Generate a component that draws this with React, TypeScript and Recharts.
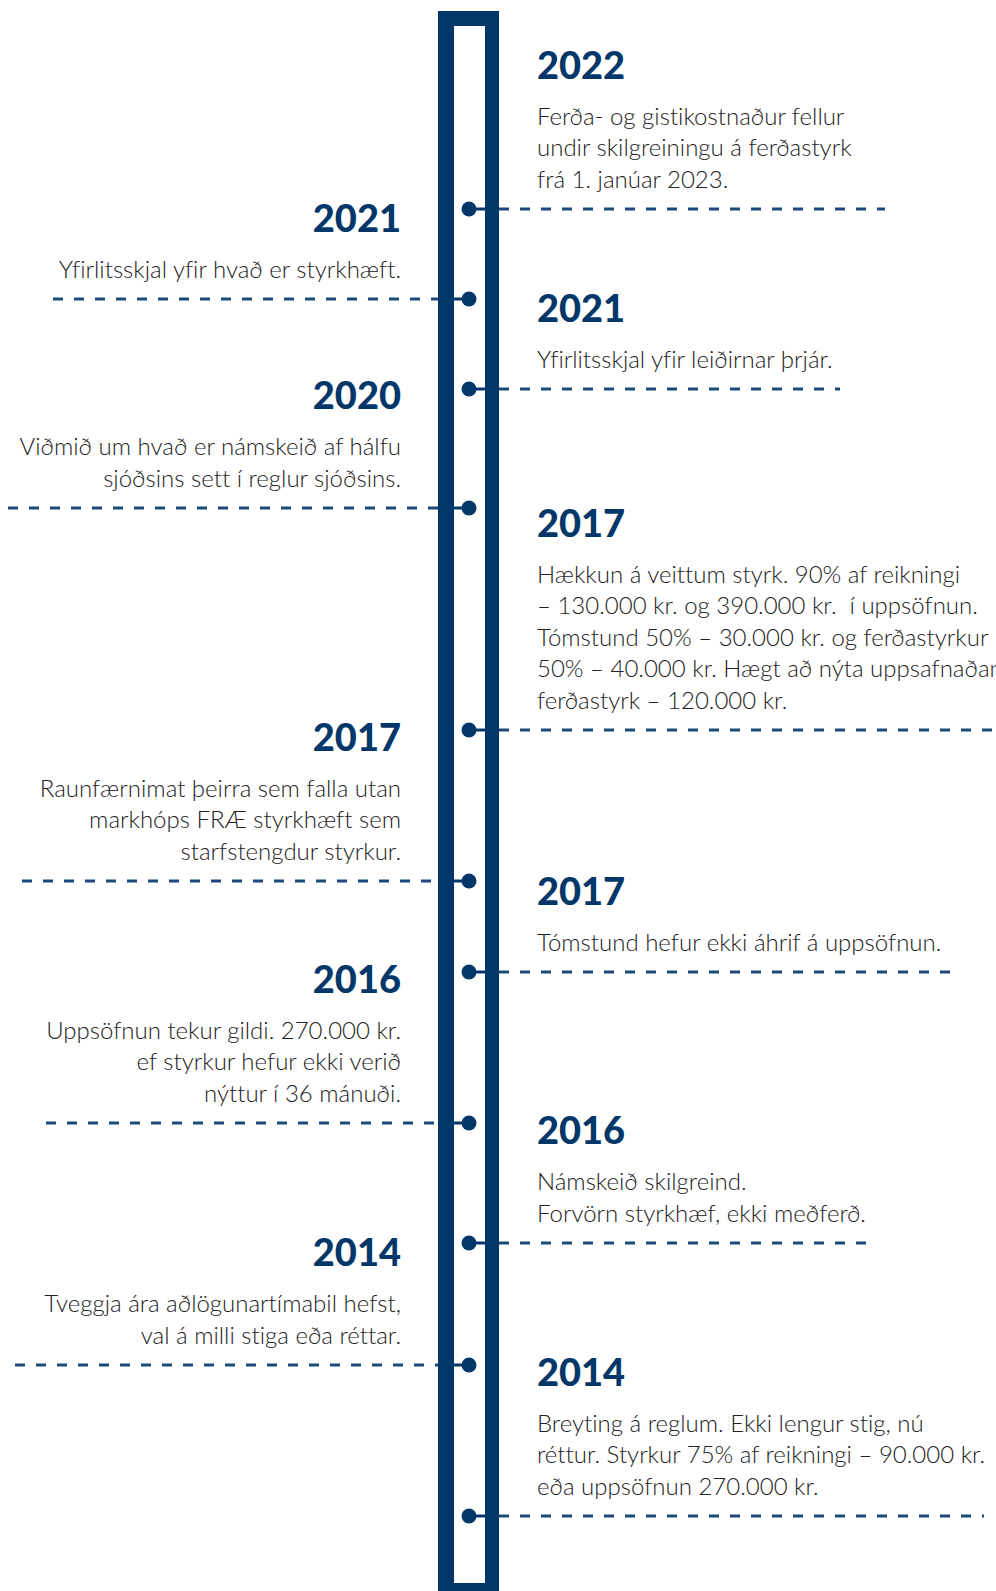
import React from 'react';
import {
  ScatterChart,
  Scatter,
  XAxis,
  YAxis,
  ReferenceArea,
  ReferenceLine
} from 'recharts';

// timeline events, top to bottom
const eventYears = ['2022', '2021', '2021', '2020', '2017', '2017', '2017', '2016', '2016', '2014', '2014'];
const eventSides = ['right', 'left', 'right', 'left', 'right', 'left', 'right', 'left', 'right', 'left', 'right'];
// position of each milestone along the timeline
const eventPositions = [209, 299, 389, 508, 730, 881, 972, 1123, 1243, 1365, 1516];
const eventTexts: string[][] = [
  ['Ferða- og gistikostnaður fellur', 'undir skilgreiningu á ferðastyrk', 'frá 1. janúar 2023.'],
  ['Yfirlitsskjal yfir hvað er styrkhæft.'],
  ['Yfirlitsskjal yfir leiðirnar þrjár.'],
  ['Viðmið um hvað er námskeið af hálfu', 'sjóðsins sett í reglur sjóðsins.'],
  [
    'Hækkun á veittum styrk. 90% af reikningi',
    '– 130.000 kr. og 390.000 kr.  í uppsöfnun.',
    'Tómstund 50% – 30.000 kr. og ferðastyrkur',
    '50% – 40.000 kr. Hægt að nýta uppsafnaðan',
    'ferðastyrk – 120.000 kr.'
  ],
  ['Raunfærnimat þeirra sem falla utan', 'markhóps FRÆ styrkhæft sem', 'starfstengdur styrkur.'],
  ['Tómstund hefur ekki áhrif á uppsöfnun.'],
  ['Uppsöfnun tekur gildi. 270.000 kr.', 'ef styrkur hefur ekki verið', 'nýttur í 36 mánuði.'],
  ['Námskeið skilgreind.', 'Forvörn styrkhæf, ekki meðferð.'],
  ['Tveggja ára aðlögunartímabil hefst,', 'val á milli stiga eða réttar.'],
  ['Breyting á reglum. Ekki lengur stig, nú', 'réttur. Styrkur 75% af reikningi – 90.000 kr.', 'eða uppsöfnun 270.000 kr.']
];
// where each dashed leader line stops (far end from the spine)
const dashEnds = [885, 53, 840, 8, 996, 22, 953, 46, 877, 15, 984];

const W = 996;
const H = 1591;
const NAVY = '#03376a';
const SPINE = 469;
const BAR_OUT = [438, 499];
const BAR_IN = [454, 485];

const data = eventYears.map((year, i) => ({
  x: SPINE,
  y: eventPositions[i],
  year,
  side: eventSides[i],
  lines: eventTexts[i]
}));

const Milestone = (props: any) => {
  const { cx, cy, payload } = props;
  const right = payload.side === 'right';
  const lineGap = 31.6;
  const n = payload.lines.length;
  const lastBase = cy - 21;
  const firstBase = lastBase - (n - 1) * lineGap;
  const tx = right ? cx + 68 : cx - 68;
  const anchor = right ? 'start' : 'end';
  return (
    <g>
      <line
        x1={cx}
        x2={right ? cx + 16 : cx - 15}
        y1={cy}
        y2={cy}
        stroke={NAVY}
        strokeWidth={3}
      />
      <circle cx={cx} cy={cy} r={7.5} fill={NAVY} />
      <text
        x={tx}
        y={firstBase - 46}
        textAnchor={anchor}
        fill={NAVY}
        fontFamily="Lato, 'Open Sans', sans-serif"
        fontWeight={900}
        fontSize={38}
      >
        {payload.year}
      </text>
      {payload.lines.map((ln: string, k: number) => (
        <text
          key={k}
          x={tx}
          y={firstBase + k * lineGap}
          textAnchor={anchor}
          fill="#222222"
          fontFamily="Lato, 'Open Sans', sans-serif"
          fontWeight={300}
          fontSize={24}
          style={{ whiteSpace: 'pre', fontVariantLigatures: 'none' }}
        >
          {ln}
        </text>
      ))}
    </g>
  );
};

export default function App() {
  return (
    <div style={{ position: 'absolute', left: 0, top: 0, width: W, height: H, background: '#fff' }}>
      <ScatterChart width={W} height={H} margin={{ top: 0, right: 0, bottom: 0, left: 0 }}>
        <XAxis type="number" dataKey="x" domain={[0, W]} hide />
        <YAxis type="number" dataKey="y" domain={[0, H]} reversed hide />
        <ReferenceArea
          x1={BAR_OUT[0]}
          x2={BAR_OUT[1]}
          y1={11}
          y2={H}
          fill={NAVY}
          fillOpacity={1}
          stroke="none"
          ifOverflow="visible"
        />
        <ReferenceArea
          x1={BAR_IN[0]}
          x2={BAR_IN[1]}
          y1={26}
          y2={1583}
          fill="#ffffff"
          fillOpacity={1}
          stroke="none"
          ifOverflow="visible"
        />
        {data.map((d, i) => (
          <ReferenceLine
            key={i}
            segment={
              d.side === 'right'
                ? [{ x: BAR_OUT[1], y: d.y }, { x: dashEnds[i], y: d.y }]
                : [{ x: dashEnds[i], y: d.y }, { x: BAR_OUT[0], y: d.y }]
            }
            stroke="#1c4a78"
            strokeWidth={3}
            strokeDasharray="10 11"
            ifOverflow="visible"
          />
        ))}
        <Scatter data={data} shape={Milestone} isAnimationActive={false} />
      </ScatterChart>
    </div>
  );
}
